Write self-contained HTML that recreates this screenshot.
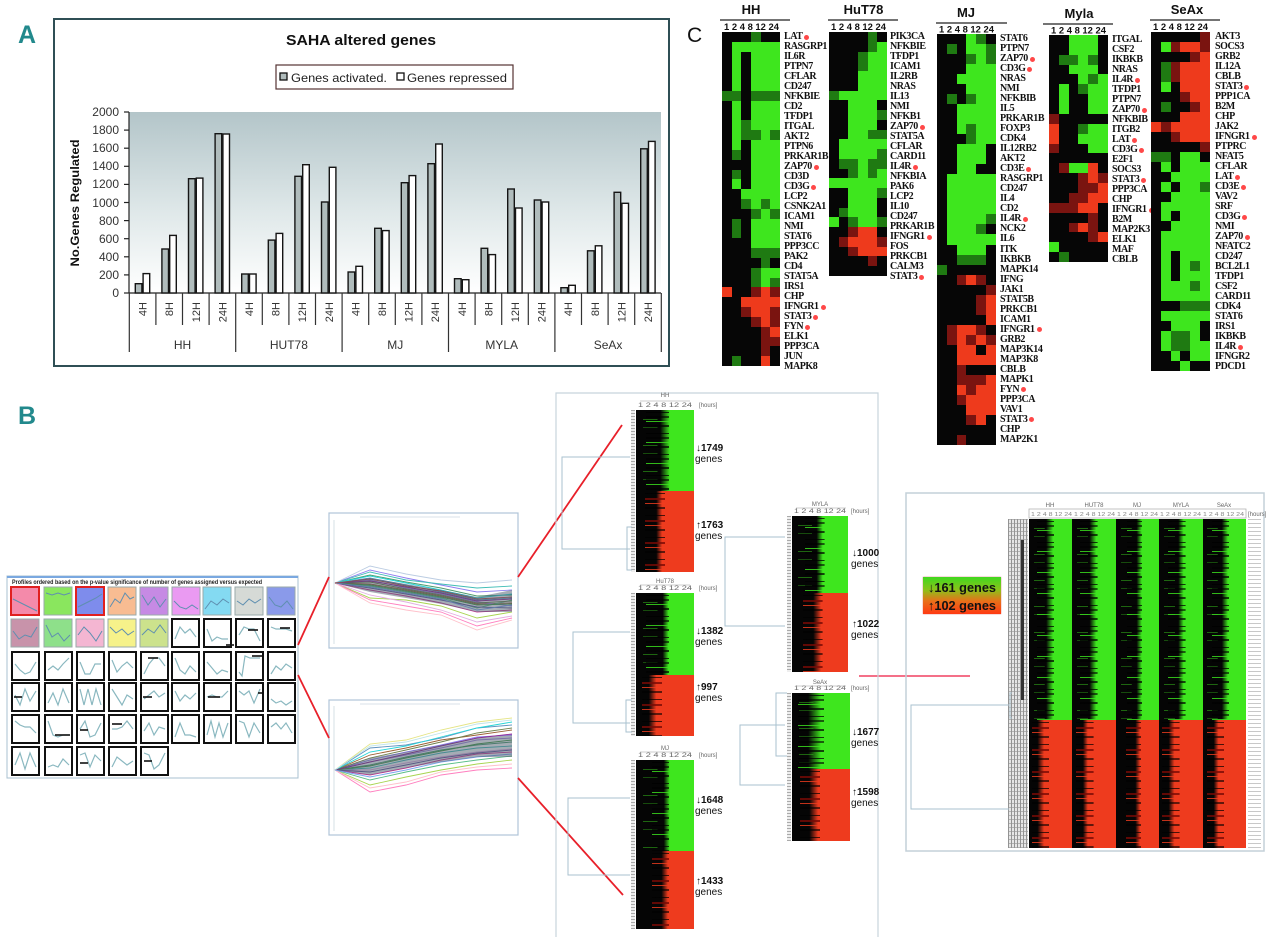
<!DOCTYPE html>
<html><head><meta charset="utf-8">
<style>
body{margin:0;width:1280px;height:950px;background:#fff;position:relative;overflow:hidden;font-family:"Liberation Sans","DejaVu Sans",sans-serif}
.hm{position:absolute;display:grid;grid-template-columns:repeat(6,1fr)}
.hm k,.hm g,.hm d,.hm r,.hm e{display:block}
k{background:#060606} g{background:#3ee61e} d{background:#1f7a12} r{background:#ee3a1c} e{background:#7a1410}
.gl{position:absolute;display:grid;font:bold 10px "Liberation Serif",serif;letter-spacing:-0.45px;color:#111;line-height:1}
.gl div{display:flex;align-items:center;white-space:nowrap}
.gl s{display:inline-block;width:5px;height:5px;border-radius:50%;background:#ff4848;margin-left:2px;text-decoration:none}
.sg,.sr{position:absolute}
.sg{background:repeating-linear-gradient(180deg,transparent 0 2px,rgba(0,0,0,.75) 2px 3px,transparent 3px 6px,rgba(0,0,0,.6) 6px 8px,transparent 8px 11px,rgba(60,230,30,.8) 11px 12px,transparent 12px 15px,rgba(0,0,0,.7) 15px 17px,transparent 17px 21px) no-repeat var(--sp) 0/var(--sw) 100%,repeating-linear-gradient(180deg,transparent 0 9px,rgba(50,180,25,.55) 9px 10px,transparent 10px 17px,rgba(50,180,25,.4) 17px 18px,transparent 18px 26px) no-repeat 15% 0/25% 100%,linear-gradient(90deg,#050505 0 var(--a),#3ee61e var(--b) 100%)}
.sr{background:repeating-linear-gradient(180deg,transparent 0 2px,rgba(0,0,0,.7) 2px 3px,transparent 3px 7px,rgba(120,10,5,.8) 7px 9px,transparent 9px 12px,rgba(240,60,30,.8) 12px 13px,transparent 13px 16px,rgba(0,0,0,.6) 16px 18px,transparent 18px 22px) no-repeat var(--sp) 0/var(--sw) 100%,linear-gradient(90deg,#050505 0 var(--a),#ee3b1e var(--b) 100%)}
.lab{position:absolute;width:4px;background:repeating-linear-gradient(180deg,#aaa 0 1px,#eee 1px 3px)}
svg{position:absolute;left:0;top:0}
</style></head><body>

<!-- ===== C heatmaps ===== -->
<div class="hm" style="left:722px;top:32px;width:58px;height:334px;grid-template-rows:repeat(34,1fr)">
<k></k><k></k><k></k><d></d><k></k><k></k>
<k></k><g></g><g></g><g></g><g></g><g></g>
<k></k><g></g><k></k><g></g><g></g><g></g>
<k></k><g></g><k></k><g></g><g></g><g></g>
<k></k><g></g><k></k><g></g><g></g><g></g>
<k></k><g></g><k></k><g></g><g></g><g></g>
<d></d><d></d><k></k><d></d><d></d><d></d>
<k></k><g></g><k></k><g></g><g></g><g></g>
<k></k><g></g><k></k><g></g><g></g><g></g>
<k></k><g></g><d></d><g></g><g></g><g></g>
<k></k><g></g><d></d><d></d><g></g><d></d>
<k></k><g></g><k></k><g></g><g></g><g></g>
<k></k><d></d><k></k><g></g><g></g><g></g>
<k></k><k></k><k></k><g></g><g></g><g></g>
<k></k><d></d><k></k><g></g><g></g><g></g>
<k></k><g></g><k></k><g></g><g></g><g></g>
<k></k><k></k><g></g><g></g><g></g><g></g>
<k></k><k></k><d></d><g></g><d></d><g></g>
<k></k><k></k><k></k><d></d><g></g><d></d>
<k></k><d></d><k></k><g></g><g></g><g></g>
<k></k><d></d><k></k><g></g><g></g><g></g>
<k></k><k></k><k></k><g></g><g></g><g></g>
<k></k><k></k><k></k><d></d><d></d><d></d>
<k></k><k></k><k></k><k></k><d></d><k></k>
<k></k><k></k><k></k><d></d><g></g><g></g>
<k></k><k></k><k></k><d></d><g></g><d></d>
<r></r><k></k><k></k><e></e><r></r><e></e>
<k></k><k></k><r></r><r></r><r></r><r></r>
<k></k><k></k><e></e><r></r><r></r><e></e>
<k></k><k></k><k></k><e></e><r></r><e></e>
<k></k><k></k><k></k><k></k><e></e><r></r>
<k></k><k></k><k></k><k></k><e></e><e></e>
<k></k><k></k><k></k><k></k><e></e><k></k>
<k></k><d></d><k></k><k></k><r></r><k></k>
</div>
<div class="gl" style="left:784px;top:32px;height:334px;grid-template-rows:repeat(34,1fr)">
<div>LAT<s></s></div><div>RASGRP1</div><div>IL6R</div><div>PTPN7</div><div>CFLAR</div><div>CD247</div><div>NFKBIE</div><div>CD2</div><div>TFDP1</div><div>ITGAL</div><div>AKT2</div><div>PTPN6</div><div>PRKAR1B</div><div>ZAP70<s></s></div><div>CD3D</div><div>CD3G<s></s></div><div>LCP2</div><div>CSNK2A1</div><div>ICAM1</div><div>NMI</div><div>STAT6</div><div>PPP3CC</div><div>PAK2</div><div>CD4</div><div>STAT5A</div><div>IRS1</div><div>CHP</div><div>IFNGR1<s></s></div><div>STAT3<s></s></div><div>FYN<s></s></div><div>ELK1</div><div>PPP3CA</div><div>JUN</div><div>MAPK8</div>
</div>

<div class="hm" style="left:829px;top:32px;width:58px;height:244px;grid-template-rows:repeat(25,1fr)">
<k></k><k></k><k></k><k></k><d></d><k></k>
<k></k><k></k><k></k><k></k><d></d><g></g>
<k></k><k></k><k></k><d></d><g></g><g></g>
<k></k><k></k><k></k><d></d><g></g><g></g>
<k></k><k></k><k></k><g></g><g></g><g></g>
<k></k><k></k><k></k><g></g><g></g><g></g>
<d></d><g></g><g></g><g></g><g></g><g></g>
<k></k><k></k><g></g><g></g><g></g><k></k>
<k></k><k></k><g></g><g></g><g></g><d></d>
<k></k><k></k><g></g><g></g><g></g><k></k>
<k></k><k></k><g></g><g></g><d></d><d></d>
<k></k><g></g><g></g><g></g><g></g><g></g>
<k></k><g></g><g></g><g></g><g></g><d></d>
<k></k><d></d><d></d><g></g><d></d><d></d>
<k></k><k></k><d></d><g></g><d></d><g></g>
<g></g><g></g><g></g><g></g><g></g><g></g>
<k></k><k></k><g></g><g></g><g></g><d></d>
<k></k><k></k><g></g><g></g><g></g><k></k>
<k></k><d></d><g></g><g></g><g></g><k></k>
<g></g><k></k><d></d><g></g><g></g><d></d>
<k></k><k></k><e></e><r></r><r></r><k></k>
<k></k><e></e><r></r><r></r><r></r><e></e>
<k></k><k></k><e></e><r></r><r></r><r></r>
<k></k><k></k><k></k><k></k><e></e><k></k>
<k></k><k></k><k></k><k></k><k></k><k></k>
</div>
<div class="gl" style="left:890px;top:32px;height:244px;grid-template-rows:repeat(25,1fr)">
<div>PIK3CA</div><div>NFKBIE</div><div>TFDP1</div><div>ICAM1</div><div>IL2RB</div><div>NRAS</div><div>IL13</div><div>NMI</div><div>NFKB1</div><div>ZAP70<s></s></div><div>STAT5A</div><div>CFLAR</div><div>CARD11</div><div>IL4R<s></s></div><div>NFKBIA</div><div>PAK6</div><div>LCP2</div><div>IL10</div><div>CD247</div><div>PRKAR1B</div><div>IFNGR1<s></s></div><div>FOS</div><div>PRKCB1</div><div>CALM3</div><div>STAT3<s></s></div>
</div>

<div class="hm" style="left:937px;top:34px;width:59px;height:411px;grid-template-rows:repeat(41,1fr)">
<k></k><k></k><k></k><g></g><d></d><k></k>
<k></k><d></d><k></k><g></g><g></g><d></d>
<k></k><k></k><k></k><d></d><g></g><d></d>
<k></k><k></k><k></k><g></g><g></g><g></g>
<k></k><k></k><g></g><g></g><g></g><g></g>
<k></k><k></k><k></k><g></g><g></g><g></g>
<k></k><d></d><k></k><d></d><g></g><g></g>
<k></k><k></k><g></g><g></g><g></g><g></g>
<k></k><k></k><g></g><g></g><g></g><g></g>
<k></k><k></k><g></g><d></d><g></g><g></g>
<k></k><k></k><k></k><d></d><g></g><g></g>
<k></k><k></k><g></g><g></g><g></g><k></k>
<k></k><k></k><g></g><g></g><g></g><k></k>
<k></k><k></k><g></g><g></g><k></k><k></k>
<k></k><g></g><g></g><g></g><g></g><g></g>
<k></k><g></g><g></g><g></g><g></g><g></g>
<k></k><g></g><g></g><g></g><g></g><g></g>
<k></k><g></g><g></g><g></g><g></g><g></g>
<k></k><g></g><g></g><g></g><g></g><d></d>
<k></k><g></g><g></g><g></g><d></d><k></k>
<k></k><g></g><g></g><g></g><g></g><g></g>
<k></k><k></k><g></g><g></g><g></g><k></k>
<k></k><k></k><d></d><d></d><d></d><k></k>
<d></d><k></k><k></k><k></k><k></k><k></k>
<k></k><k></k><e></e><r></r><e></e><k></k>
<k></k><k></k><k></k><k></k><k></k><e></e>
<k></k><k></k><k></k><k></k><e></e><r></r>
<k></k><k></k><k></k><k></k><e></e><r></r>
<k></k><k></k><k></k><k></k><k></k><r></r>
<k></k><e></e><r></r><r></r><e></e><k></k>
<k></k><e></e><r></r><e></e><r></r><e></e>
<k></k><k></k><r></r><r></r><k></k><r></r>
<k></k><k></k><r></r><r></r><r></r><r></r>
<k></k><k></k><e></e><k></k><k></k><k></k>
<k></k><k></k><e></e><e></e><e></e><r></r>
<k></k><k></k><r></r><e></e><r></r><r></r>
<k></k><k></k><e></e><r></r><r></r><r></r>
<k></k><k></k><k></k><r></r><r></r><r></r>
<k></k><k></k><k></k><e></e><r></r><k></k>
<k></k><k></k><k></k><k></k><k></k><k></k>
<k></k><k></k><e></e><k></k><k></k><k></k>
</div>
<div class="gl" style="left:1000px;top:34px;height:411px;grid-template-rows:repeat(41,1fr)">
<div>STAT6</div><div>PTPN7</div><div>ZAP70<s></s></div><div>CD3G<s></s></div><div>NRAS</div><div>NMI</div><div>NFKBIB</div><div>IL5</div><div>PRKAR1B</div><div>FOXP3</div><div>CDK4</div><div>IL12RB2</div><div>AKT2</div><div>CD3E<s></s></div><div>RASGRP1</div><div>CD247</div><div>IL4</div><div>CD2</div><div>IL4R<s></s></div><div>NCK2</div><div>IL6</div><div>ITK</div><div>IKBKB</div><div>MAPK14</div><div>IFNG</div><div>JAK1</div><div>STAT5B</div><div>PRKCB1</div><div>ICAM1</div><div>IFNGR1<s></s></div><div>GRB2</div><div>MAP3K14</div><div>MAP3K8</div><div>CBLB</div><div>MAPK1</div><div>FYN<s></s></div><div>PPP3CA</div><div>VAV1</div><div>STAT3<s></s></div><div>CHP</div><div>MAP2K1</div>
</div>

<div class="hm" style="left:1049px;top:35px;width:59px;height:227px;grid-template-rows:repeat(23,1fr)">
<k></k><k></k><g></g><g></g><g></g><k></k>
<k></k><k></k><g></g><g></g><g></g><k></k>
<k></k><d></d><d></d><g></g><d></d><k></k>
<k></k><k></k><g></g><g></g><g></g><k></k>
<k></k><k></k><k></k><g></g><d></d><g></g>
<k></k><g></g><k></k><d></d><g></g><g></g>
<k></k><g></g><k></k><k></k><g></g><g></g>
<k></k><g></g><k></k><k></k><g></g><g></g>
<e></e><k></k><k></k><k></k><k></k><k></k>
<r></r><k></k><k></k><d></d><g></g><g></g>
<r></r><k></k><k></k><g></g><g></g><g></g>
<e></e><k></k><k></k><k></k><g></g><g></g>
<k></k><k></k><k></k><k></k><k></k><k></k>
<k></k><e></e><g></g><g></g><r></r><k></k>
<k></k><k></k><k></k><e></e><r></r><e></e>
<k></k><k></k><k></k><e></e><e></e><r></r>
<k></k><k></k><e></e><e></e><r></r><r></r>
<e></e><e></e><e></e><r></r><r></r><k></k>
<k></k><k></k><k></k><k></k><e></e><k></k>
<k></k><k></k><e></e><r></r><e></e><k></k>
<k></k><k></k><k></k><k></k><e></e><r></r>
<g></g><k></k><k></k><k></k><k></k><k></k>
<k></k><d></d><k></k><k></k><k></k><k></k>
</div>
<div class="gl" style="left:1112px;top:35px;height:227px;grid-template-rows:repeat(23,1fr)">
<div>ITGAL</div><div>CSF2</div><div>IKBKB</div><div>NRAS</div><div>IL4R<s></s></div><div>TFDP1</div><div>PTPN7</div><div>ZAP70<s></s></div><div>NFKBIB</div><div>ITGB2</div><div>LAT<s></s></div><div>CD3G<s></s></div><div>E2F1</div><div>SOCS3</div><div>STAT3<s></s></div><div>PPP3CA</div><div>CHP</div><div>IFNGR1<s></s></div><div>B2M</div><div>MAP2K3</div><div>ELK1</div><div>MAF</div><div>CBLB</div>
</div>

<div class="hm" style="left:1151px;top:32px;width:59px;height:339px;grid-template-rows:repeat(34,1fr)">
<k></k><k></k><k></k><k></k><k></k><e></e>
<k></k><g></g><e></e><r></r><r></r><e></e>
<k></k><k></k><k></k><k></k><e></e><r></r>
<k></k><d></d><e></e><r></r><r></r><r></r>
<k></k><d></d><e></e><r></r><r></r><r></r>
<k></k><g></g><k></k><r></r><r></r><r></r>
<k></k><k></k><k></k><e></e><r></r><r></r>
<k></k><d></d><k></k><k></k><e></e><r></r>
<k></k><k></k><k></k><r></r><r></r><r></r>
<r></r><e></e><r></r><r></r><r></r><r></r>
<k></k><k></k><e></e><r></r><r></r><r></r>
<k></k><k></k><k></k><k></k><k></k><e></e>
<d></d><d></d><k></k><g></g><g></g><k></k>
<k></k><g></g><k></k><g></g><g></g><g></g>
<k></k><k></k><g></g><g></g><g></g><g></g>
<k></k><g></g><k></k><g></g><g></g><d></d>
<k></k><k></k><g></g><g></g><g></g><g></g>
<k></k><g></g><g></g><g></g><g></g><g></g>
<k></k><g></g><k></k><g></g><g></g><g></g>
<k></k><k></k><g></g><g></g><g></g><g></g>
<k></k><g></g><g></g><g></g><g></g><g></g>
<k></k><g></g><g></g><g></g><g></g><g></g>
<k></k><g></g><k></k><g></g><g></g><g></g>
<k></k><g></g><k></k><g></g><d></d><g></g>
<k></k><g></g><k></k><g></g><g></g><g></g>
<k></k><g></g><g></g><g></g><d></d><g></g>
<k></k><g></g><g></g><g></g><g></g><g></g>
<k></k><k></k><k></k><d></d><d></d><d></d>
<k></k><g></g><g></g><g></g><g></g><g></g>
<k></k><k></k><g></g><g></g><g></g><k></k>
<k></k><g></g><d></d><d></d><g></g><k></k>
<k></k><g></g><d></d><d></d><g></g><g></g>
<k></k><k></k><g></g><k></k><g></g><g></g>
<k></k><k></k><k></k><g></g><k></k><k></k>
</div>
<div class="gl" style="left:1215px;top:32px;height:339px;grid-template-rows:repeat(34,1fr)">
<div>AKT3</div><div>SOCS3</div><div>GRB2</div><div>IL12A</div><div>CBLB</div><div>STAT3<s></s></div><div>PPP1CA</div><div>B2M</div><div>CHP</div><div>JAK2</div><div>IFNGR1<s></s></div><div>PTPRC</div><div>NFAT5</div><div>CFLAR</div><div>LAT<s></s></div><div>CD3E<s></s></div><div>VAV2</div><div>SRF</div><div>CD3G<s></s></div><div>NMI</div><div>ZAP70<s></s></div><div>NFATC2</div><div>CD247</div><div>BCL2L1</div><div>TFDP1</div><div>CSF2</div><div>CARD11</div><div>CDK4</div><div>STAT6</div><div>IRS1</div><div>IKBKB</div><div>IL4R<s></s></div><div>IFNGR2</div><div>PDCD1</div>
</div>

<!-- ===== B small heatmaps ===== -->
<div class="lab" style="left:631px;top:410px;height:162px"></div>
<div class="sg" style="left:636px;top:410px;width:58px;height:81px;--a:42%;--b:58%;--sp:30%;--sw:40%"></div>
<div class="sr" style="left:636px;top:491px;width:58px;height:81px;--a:35%;--b:45%;--sp:25%;--sw:35%"></div>

<div class="lab" style="left:631px;top:593px;height:143px"></div>
<div class="sg" style="left:636px;top:593px;width:58px;height:82px;--a:46%;--b:56%;--sp:30%;--sw:40%"></div>
<div class="sr" style="left:636px;top:675px;width:58px;height:61px;--a:22%;--b:35%;--sp:15%;--sw:35%"></div>

<div class="lab" style="left:631px;top:760px;height:169px"></div>
<div class="sg" style="left:636px;top:760px;width:58px;height:91px;--a:48%;--b:58%;--sp:40%;--sw:30%"></div>
<div class="sr" style="left:636px;top:851px;width:58px;height:78px;--a:44%;--b:55%;--sp:40%;--sw:30%"></div>

<div class="lab" style="left:787px;top:516px;height:156px"></div>
<div class="sg" style="left:792px;top:516px;width:56px;height:77px;--a:44%;--b:55%;--sp:35%;--sw:35%"></div>
<div class="sr" style="left:792px;top:593px;width:56px;height:79px;--a:38%;--b:52%;--sp:30%;--sw:35%"></div>

<div class="lab" style="left:787px;top:693px;height:148px"></div>
<div class="sg" style="left:792px;top:693px;width:58px;height:76px;--a:28%;--b:50%;--sp:20%;--sw:45%"></div>
<div class="sr" style="left:792px;top:769px;width:58px;height:72px;--a:30%;--b:45%;--sp:22%;--sw:35%"></div>

<!-- ===== B big heatmap ===== -->
<div style="position:absolute;left:1008px;top:519px;width:20px;height:329px;background:repeating-linear-gradient(90deg,#888 0 1px,transparent 1px 3px),repeating-linear-gradient(180deg,#aaa 0 1px,#e4e4e4 1px 4px);opacity:.9"></div>
<div style="position:absolute;left:1021px;top:540px;width:3px;height:160px;background:#333"></div>
<div class="sg" style="left:1029px;top:519px;width:43.4px;height:201px;--a:40%;--b:56%;--sp:30%;--sw:40%"></div>
<div class="sg" style="left:1072.4px;top:519px;width:43.4px;height:201px;--a:40%;--b:55%;--sp:30%;--sw:40%"></div>
<div class="sg" style="left:1115.8px;top:519px;width:43.4px;height:201px;--a:48%;--b:60%;--sp:40%;--sw:35%"></div>
<div class="sg" style="left:1159.2px;top:519px;width:43.4px;height:201px;--a:44%;--b:56%;--sp:35%;--sw:40%"></div>
<div class="sg" style="left:1202.6px;top:519px;width:43.4px;height:201px;--a:44%;--b:58%;--sp:35%;--sw:40%"></div>
<div class="sr" style="left:1029px;top:720px;width:43.4px;height:128px;--a:20%;--b:35%;--sp:10%;--sw:40%"></div>
<div class="sr" style="left:1072.4px;top:720px;width:43.4px;height:128px;--a:25%;--b:36%;--sp:15%;--sw:40%"></div>
<div class="sr" style="left:1115.8px;top:720px;width:43.4px;height:128px;--a:45%;--b:56%;--sp:35%;--sw:35%"></div>
<div class="sr" style="left:1159.2px;top:720px;width:43.4px;height:128px;--a:22%;--b:35%;--sp:12%;--sw:40%"></div>
<div class="sr" style="left:1202.6px;top:720px;width:43.4px;height:128px;--a:25%;--b:36%;--sp:15%;--sw:40%"></div>
<div style="position:absolute;left:1248px;top:519px;width:13px;height:329px;background:repeating-linear-gradient(180deg,#c8c8c8 0 1px,transparent 1px 4px)"></div>
<div style="position:absolute;left:923px;top:577px;width:78px;height:37px;background:linear-gradient(180deg,#3fd81f 0%,#8cc21a 35%,#e8701a 65%,#ff3a12 100%);box-shadow:0 0 1px #c44"></div>

<svg width="1280" height="950" viewBox="0 0 1280 950" xmlns="http://www.w3.org/2000/svg" font-family="Liberation Sans, DejaVu Sans, sans-serif">
<defs>
<linearGradient id="pa" x1="0" y1="0" x2="0" y2="1">
<stop offset="0" stop-color="#b3c5c9"/><stop offset="0.55" stop-color="#dfe8e9"/><stop offset="1" stop-color="#ffffff"/>
</linearGradient>
</defs>

<!-- ===== Panel A ===== -->
<text x="18" y="43" font-family="Liberation Sans Narrow, Liberation Sans, sans-serif" font-weight="bold" font-size="25" fill="#22898c">A</text>
<rect x="54" y="19" width="615" height="347" fill="#fff" stroke="#2f4f55" stroke-width="2"/>
<text x="361" y="45" text-anchor="middle" font-weight="bold" font-size="15" textLength="150" lengthAdjust="spacingAndGlyphs" fill="#111">SAHA altered genes</text>
<rect x="276" y="65" width="237" height="24" fill="#fff" stroke="#553333" stroke-width="1.2"/>
<rect x="280" y="73" width="7" height="7" fill="#b0bcbc" stroke="#111" stroke-width="1.3"/>
<text x="291" y="82" font-size="12" fill="#222" textLength="96" lengthAdjust="spacingAndGlyphs">Genes activated.</text>
<rect x="397" y="73" width="7" height="7" fill="#fff" stroke="#111" stroke-width="1.3"/>
<text x="407" y="82" font-size="12" fill="#222" textLength="100" lengthAdjust="spacingAndGlyphs">Genes repressed</text>

<rect x="129" y="112" width="532" height="181" fill="url(#pa)"/>
<g stroke="#222" stroke-width="1.2">
<line x1="129" y1="112" x2="129" y2="293"/>
<line x1="129" y1="293" x2="661" y2="293"/>
<line x1="124" y1="293" x2="129" y2="293"/><line x1="124" y1="274.9" x2="129" y2="274.9"/><line x1="124" y1="256.8" x2="129" y2="256.8"/><line x1="124" y1="238.7" x2="129" y2="238.7"/><line x1="124" y1="220.6" x2="129" y2="220.6"/><line x1="124" y1="202.5" x2="129" y2="202.5"/><line x1="124" y1="184.4" x2="129" y2="184.4"/><line x1="124" y1="166.3" x2="129" y2="166.3"/><line x1="124" y1="148.2" x2="129" y2="148.2"/><line x1="124" y1="130.1" x2="129" y2="130.1"/><line x1="124" y1="112" x2="129" y2="112"/>
</g>
<g font-size="12" fill="#333" text-anchor="end">
<text x="119" y="297">0</text><text x="119" y="279">200</text><text x="119" y="261">400</text><text x="119" y="243">600</text><text x="119" y="225">800</text><text x="119" y="207">1000</text><text x="119" y="188">1200</text><text x="119" y="170">1400</text><text x="119" y="152">1600</text><text x="119" y="134">1800</text><text x="119" y="116">2000</text>
</g>
<text transform="translate(79,203) rotate(-90)" text-anchor="middle" font-weight="bold" font-size="12" fill="#111" textLength="127" lengthAdjust="spacingAndGlyphs">No.Genes Regulated</text>

<g stroke="#151515" stroke-width="1.4">
<rect x="135.3" y="283.7" width="6.6" height="9.3" fill="#b0bcbc"/><rect x="143.1" y="273.6" width="6.6" height="19.4" fill="#fff"/>
<rect x="161.9" y="249" width="6.6" height="44" fill="#b0bcbc"/><rect x="169.7" y="235.4" width="6.6" height="57.6" fill="#fff"/>
<rect x="188.5" y="178.7" width="6.6" height="114.3" fill="#b0bcbc"/><rect x="196.3" y="178.1" width="6.6" height="114.9" fill="#fff"/>
<rect x="215.1" y="133.7" width="6.6" height="159.3" fill="#b0bcbc"/><rect x="222.9" y="134" width="6.6" height="159" fill="#fff"/>
<rect x="241.7" y="274" width="6.6" height="19" fill="#b0bcbc"/><rect x="249.5" y="274" width="6.6" height="19" fill="#fff"/>
<rect x="268.3" y="240.1" width="6.6" height="52.9" fill="#b0bcbc"/><rect x="276.1" y="233.4" width="6.6" height="59.6" fill="#fff"/>
<rect x="294.9" y="176.3" width="6.6" height="116.7" fill="#b0bcbc"/><rect x="302.7" y="164.7" width="6.6" height="128.3" fill="#fff"/>
<rect x="321.5" y="202" width="6.6" height="91" fill="#b0bcbc"/><rect x="329.3" y="167.3" width="6.6" height="125.7" fill="#fff"/>
<rect x="348.1" y="272" width="6.6" height="21" fill="#b0bcbc"/><rect x="355.9" y="266.3" width="6.6" height="26.7" fill="#fff"/>
<rect x="374.7" y="228.3" width="6.6" height="64.7" fill="#b0bcbc"/><rect x="382.5" y="230.6" width="6.6" height="62.4" fill="#fff"/>
<rect x="401.3" y="182.7" width="6.6" height="110.3" fill="#b0bcbc"/><rect x="409.1" y="175.6" width="6.6" height="117.4" fill="#fff"/>
<rect x="427.9" y="163.7" width="6.6" height="129.3" fill="#b0bcbc"/><rect x="435.7" y="144" width="6.6" height="149" fill="#fff"/>
<rect x="454.5" y="278.7" width="6.6" height="14.3" fill="#b0bcbc"/><rect x="462.3" y="279.7" width="6.6" height="13.3" fill="#fff"/>
<rect x="481.1" y="248.3" width="6.6" height="44.7" fill="#b0bcbc"/><rect x="488.9" y="254.6" width="6.6" height="38.4" fill="#fff"/>
<rect x="507.7" y="189" width="6.6" height="104" fill="#b0bcbc"/><rect x="515.5" y="208" width="6.6" height="85" fill="#fff"/>
<rect x="534.3" y="200" width="6.6" height="93" fill="#b0bcbc"/><rect x="542.1" y="202" width="6.6" height="91" fill="#fff"/>
<rect x="560.9" y="287.7" width="6.6" height="5.3" fill="#b0bcbc"/><rect x="568.7" y="285.3" width="6.6" height="7.7" fill="#fff"/>
<rect x="587.5" y="250.8" width="6.6" height="42.2" fill="#b0bcbc"/><rect x="595.3" y="245.8" width="6.6" height="47.2" fill="#fff"/>
<rect x="614.1" y="192.3" width="6.6" height="100.7" fill="#b0bcbc"/><rect x="621.9" y="203.3" width="6.6" height="89.7" fill="#fff"/>
<rect x="640.7" y="148.8" width="6.6" height="144.2" fill="#b0bcbc"/><rect x="648.5" y="141.4" width="6.6" height="151.6" fill="#fff"/>
</g>

<g stroke="#333" stroke-width="1.2">
<line x1="129.3" y1="293" x2="129.3" y2="352"/><line x1="155.9" y1="293" x2="155.9" y2="325"/><line x1="182.5" y1="293" x2="182.5" y2="325"/><line x1="209.1" y1="293" x2="209.1" y2="325"/>
<line x1="235.7" y1="293" x2="235.7" y2="352"/><line x1="262.3" y1="293" x2="262.3" y2="325"/><line x1="288.9" y1="293" x2="288.9" y2="325"/><line x1="315.5" y1="293" x2="315.5" y2="325"/>
<line x1="342.1" y1="293" x2="342.1" y2="352"/><line x1="368.7" y1="293" x2="368.7" y2="325"/><line x1="395.3" y1="293" x2="395.3" y2="325"/><line x1="421.9" y1="293" x2="421.9" y2="325"/>
<line x1="448.5" y1="293" x2="448.5" y2="352"/><line x1="475.1" y1="293" x2="475.1" y2="325"/><line x1="501.7" y1="293" x2="501.7" y2="325"/><line x1="528.3" y1="293" x2="528.3" y2="325"/>
<line x1="554.9" y1="293" x2="554.9" y2="352"/><line x1="581.5" y1="293" x2="581.5" y2="325"/><line x1="608.1" y1="293" x2="608.1" y2="325"/><line x1="634.7" y1="293" x2="634.7" y2="325"/>
<line x1="661.3" y1="293" x2="661.3" y2="352"/>
</g>
<g font-size="11" fill="#333" text-anchor="end">
<text transform="translate(146.6,302) rotate(-90)">4H</text><text transform="translate(173.2,302) rotate(-90)">8H</text><text transform="translate(199.8,302) rotate(-90)">12H</text><text transform="translate(226.4,302) rotate(-90)">24H</text>
<text transform="translate(253,302) rotate(-90)">4H</text><text transform="translate(279.6,302) rotate(-90)">8H</text><text transform="translate(306.2,302) rotate(-90)">12H</text><text transform="translate(332.8,302) rotate(-90)">24H</text>
<text transform="translate(359.4,302) rotate(-90)">4H</text><text transform="translate(386,302) rotate(-90)">8H</text><text transform="translate(412.6,302) rotate(-90)">12H</text><text transform="translate(439.2,302) rotate(-90)">24H</text>
<text transform="translate(465.8,302) rotate(-90)">4H</text><text transform="translate(492.4,302) rotate(-90)">8H</text><text transform="translate(519,302) rotate(-90)">12H</text><text transform="translate(545.6,302) rotate(-90)">24H</text>
<text transform="translate(572.2,302) rotate(-90)">4H</text><text transform="translate(598.8,302) rotate(-90)">8H</text><text transform="translate(625.4,302) rotate(-90)">12H</text><text transform="translate(652,302) rotate(-90)">24H</text>
</g>
<g font-size="12" fill="#333" text-anchor="middle">
<text x="182.5" y="349">HH</text><text x="288.9" y="349">HUT78</text><text x="395.3" y="349">MJ</text><text x="501.7" y="349">MYLA</text><text x="608.1" y="349">SeAx</text>
</g>

<!-- ===== Panel C headers ===== -->
<text x="687" y="42" font-size="21" fill="#111">C</text>
<g font-weight="bold" font-size="13" fill="#111" text-anchor="middle">
<text x="751" y="14">HH</text><text x="863.5" y="14">HuT78</text><text x="966" y="17">MJ</text><text x="1079" y="18">Myla</text><text x="1187" y="14">SeAx</text>
</g>
<g stroke="#222" stroke-width="1.3">
<line x1="720" y1="20" x2="790" y2="20"/><line x1="828" y1="20" x2="898" y2="20"/><line x1="936" y1="23" x2="1007" y2="23"/><line x1="1043" y1="24" x2="1113" y2="24"/><line x1="1150" y1="20" x2="1220" y2="20"/>
</g>
<g font-weight="bold" font-size="9" fill="#111">
<text x="724" y="30" textLength="55" lengthAdjust="spacingAndGlyphs">1 2 4 8 12 24</text>
<text x="831" y="30" textLength="55" lengthAdjust="spacingAndGlyphs">1 2 4 8 12 24</text>
<text x="939" y="32.5" textLength="55" lengthAdjust="spacingAndGlyphs">1 2 4 8 12 24</text>
<text x="1051" y="33.5" textLength="55" lengthAdjust="spacingAndGlyphs">1 2 4 8 12 24</text>
<text x="1153" y="30" textLength="55" lengthAdjust="spacingAndGlyphs">1 2 4 8 12 24</text>
</g>

<!-- ===== Panel B ===== -->
<text x="18" y="424" font-family="Liberation Sans Narrow, Liberation Sans, sans-serif" font-weight="bold" font-size="25" fill="#22898c">B</text>

<!-- profile panel -->
<rect x="7" y="576" width="291" height="202" fill="#fff" stroke="#a8c0d0" stroke-width="1"/>
<line x1="7" y1="577" x2="298" y2="577" stroke="#7aa8e0" stroke-width="2"/>
<text x="12" y="584" font-weight="bold" font-size="6.5" fill="#222" textLength="250" lengthAdjust="spacingAndGlyphs">Profiles ordered based on the p-value significance of number of genes assigned versus expected</text>
<g stroke="#9aa" stroke-width="1">
<rect x="11" y="587" width="28" height="28" fill="#f48aaa" stroke="#e02020" stroke-width="2"/>
<rect x="44" y="587" width="28" height="28" fill="#8ae65e"/>
<rect x="76" y="587" width="28" height="28" fill="#7e8cec" stroke="#e02020" stroke-width="2"/>
<rect x="108" y="587" width="28" height="28" fill="#f8bc92"/>
<rect x="140" y="587" width="28" height="28" fill="#c68ae4"/>
<rect x="172" y="587" width="28" height="28" fill="#ea9af2"/>
<rect x="203" y="587" width="28" height="28" fill="#84daf2"/>
<rect x="235" y="587" width="28" height="28" fill="#d6dad6"/>
<rect x="267" y="587" width="28" height="28" fill="#8a9aea"/>
<rect x="11" y="619" width="28" height="28" fill="#c893aa"/>
<rect x="44" y="619" width="28" height="28" fill="#8ee08a"/>
<rect x="76" y="619" width="28" height="28" fill="#f4b6d2"/>
<rect x="108" y="619" width="28" height="28" fill="#f6f28a"/>
<rect x="140" y="619" width="28" height="28" fill="#cce28c"/>
</g>
<g fill="none" stroke="#5f8fb0" stroke-width="1">
<polyline transform="translate(11,587)" points="2,12 8,15 14,18 20,21 26,24"/>
<polyline transform="translate(44,587)" points="2,6 8,8 14,6 20,8 26,6"/>
<polyline transform="translate(76,587)" points="2,20 8,17 14,14 20,11 26,7"/>
<polyline transform="translate(108,587)" points="2,20 7,12 12,16 17,6 22,12 26,10"/>
<polyline transform="translate(140,587)" points="2,8 8,18 14,10 20,20 26,12"/>
<polyline transform="translate(172,587)" points="2,14 8,20 14,22 20,18 26,22"/>
<polyline transform="translate(203,587)" points="2,22 8,14 14,18 20,12 26,16"/>
<polyline transform="translate(235,587)" points="2,14 8,18 14,12 20,16 26,12"/>
<polyline transform="translate(267,587)" points="2,10 8,18 14,20 20,14 26,22"/>
<polyline transform="translate(11,619)" points="2,12 8,20 14,16 20,18 26,8"/>
<polyline transform="translate(44,619)" points="2,6 8,18 14,14 20,22 26,16"/>
<polyline transform="translate(76,619)" points="2,16 8,8 14,14 20,22 26,12"/>
<polyline transform="translate(108,619)" points="2,8 8,14 14,10 20,16 26,12"/>
<polyline transform="translate(140,619)" points="2,16 8,10 14,14 20,6 26,14"/>
</g>
<g fill="#fff" stroke="#111" stroke-width="2">
<rect x="172" y="619" width="27" height="28"/><rect x="204" y="619" width="27" height="28"/><rect x="236" y="619" width="27" height="28"/><rect x="268" y="619" width="27" height="28"/>
<rect x="12" y="652" width="27" height="28"/><rect x="45" y="652" width="27" height="28"/><rect x="77" y="652" width="27" height="28"/><rect x="109" y="652" width="27" height="28"/><rect x="141" y="652" width="27" height="28"/><rect x="172" y="652" width="27" height="28"/><rect x="204" y="652" width="27" height="28"/><rect x="236" y="652" width="27" height="28"/><rect x="268" y="652" width="27" height="28"/>
<rect x="12" y="683" width="27" height="28"/><rect x="45" y="683" width="27" height="28"/><rect x="77" y="683" width="27" height="28"/><rect x="109" y="683" width="27" height="28"/><rect x="141" y="683" width="27" height="28"/><rect x="172" y="683" width="27" height="28"/><rect x="204" y="683" width="27" height="28"/><rect x="236" y="683" width="27" height="28"/><rect x="268" y="683" width="27" height="28"/>
<rect x="12" y="715" width="27" height="28"/><rect x="45" y="715" width="27" height="28"/><rect x="77" y="715" width="27" height="28"/><rect x="109" y="715" width="27" height="28"/><rect x="141" y="715" width="27" height="28"/><rect x="172" y="715" width="27" height="28"/><rect x="204" y="715" width="27" height="28"/><rect x="236" y="715" width="27" height="28"/><rect x="268" y="715" width="27" height="28"/>
<rect x="12" y="747" width="27" height="28"/><rect x="45" y="747" width="27" height="28"/><rect x="77" y="747" width="27" height="28"/><rect x="109" y="747" width="27" height="28"/><rect x="141" y="747" width="27" height="28"/>
</g>
<g fill="none" stroke="#8ab8c0" stroke-width="1.2">
<polyline transform="translate(172,619)" points="3,20 8,8 13,14 18,10 24,18"/>
<polyline transform="translate(204,619)" points="3,10 8,22 13,18 18,20 24,20"/>
<polyline transform="translate(236,619)" points="3,16 8,8 13,10 18,10 24,22"/>
<polyline transform="translate(268,619)" points="3,8 8,10 13,10 18,10 24,12"/>
<polyline transform="translate(12,652)" points="3,12 8,18 13,22 18,20 24,10"/>
<polyline transform="translate(45,652)" points="3,18 8,14 13,18 18,12 24,6"/>
<polyline transform="translate(77,652)" points="3,10 8,22 13,22 18,12 24,12"/>
<polyline transform="translate(109,652)" points="3,8 8,20 13,14 18,10 24,16"/>
<polyline transform="translate(141,652)" points="3,22 8,12 13,6 18,6 24,14"/>
<polyline transform="translate(172,652)" points="3,6 8,18 13,22 18,14 24,20"/>
<polyline transform="translate(204,652)" points="3,10 8,16 13,22 18,18 24,20"/>
<polyline transform="translate(236,652)" points="3,20 6,24 9,4 14,6 24,6"/>
<polyline transform="translate(268,652)" points="3,22 8,14 13,18 18,12 24,16"/>
<polyline transform="translate(12,683)" points="3,12 8,22 13,6 18,18 24,8"/>
<polyline transform="translate(45,683)" points="3,20 8,10 13,22 18,6 24,20"/>
<polyline transform="translate(77,683)" points="3,6 7,22 11,6 15,22 19,6 24,22"/>
<polyline transform="translate(109,683)" points="3,6 8,14 13,22 18,12 24,16"/>
<polyline transform="translate(141,683)" points="3,16 8,12 13,8 18,14 24,10"/>
<polyline transform="translate(172,683)" points="3,8 8,18 13,12 18,16 24,10"/>
<polyline transform="translate(204,683)" points="3,14 8,12 13,14 18,14 24,8"/>
<polyline transform="translate(236,683)" points="3,8 8,12 13,8 18,20 24,6"/>
<polyline transform="translate(268,683)" points="3,16 8,20 13,18 18,22 24,18"/>
<polyline transform="translate(12,715)" points="3,6 8,10 13,12 18,12 24,18"/>
<polyline transform="translate(45,715)" points="3,6 8,20 13,22 18,20 24,20"/>
<polyline transform="translate(77,715)" points="3,14 8,6 13,22 18,20 24,8"/>
<polyline transform="translate(109,715)" points="3,14 8,14 13,12 18,6 24,14"/>
<polyline transform="translate(141,715)" points="3,16 8,8 13,20 18,12 24,14"/>
<polyline transform="translate(172,715)" points="3,22 8,8 13,20 18,20 24,22"/>
<polyline transform="translate(204,715)" points="3,20 7,6 11,22 15,8 19,22 24,8"/>
<polyline transform="translate(236,715)" points="3,6 8,8 13,22 18,8 24,18"/>
<polyline transform="translate(268,715)" points="3,12 8,8 13,14 18,8 24,18"/>
<polyline transform="translate(12,747)" points="3,18 8,6 13,22 18,6 24,20"/>
<polyline transform="translate(45,747)" points="3,20 8,18 13,20 18,12 24,18"/>
<polyline transform="translate(77,747)" points="3,8 8,6 13,20 18,8 24,14"/>
<polyline transform="translate(109,747)" points="3,20 8,10 13,14 18,18 24,14"/>
<polyline transform="translate(141,747)" points="3,6 8,8 13,22 18,18 24,6"/>
</g>
<g stroke="#111" stroke-width="1.6">
<line x1="226" y1="645" x2="234" y2="645"/><line x1="248" y1="630" x2="258" y2="630"/><line x1="280" y1="628" x2="290" y2="628"/>
<line x1="148" y1="658" x2="158" y2="658"/><line x1="252" y1="656" x2="262" y2="656"/><line x1="14" y1="697" x2="22" y2="697"/>
<line x1="143" y1="697" x2="152" y2="697"/><line x1="208" y1="697" x2="220" y2="697"/><line x1="258" y1="693" x2="264" y2="693"/>
<line x1="55" y1="735" x2="70" y2="735"/><line x1="80" y1="730" x2="88" y2="730"/><line x1="112" y1="724" x2="122" y2="724"/>
<line x1="80" y1="763" x2="88" y2="763"/><line x1="144" y1="761" x2="152" y2="761"/>
</g>

<!-- line charts -->
<rect x="329" y="513" width="189" height="135" fill="#fff" stroke="#b0c4d8" stroke-width="1.2"/>
<rect x="329" y="700" width="189" height="135" fill="#fff" stroke="#b0c4d8" stroke-width="1.2"/>
<g stroke="#ccd8e0" stroke-width="0.8"><line x1="334" y1="520" x2="334" y2="644"/><line x1="334" y1="706" x2="334" y2="831"/>
<line x1="360" y1="517" x2="460" y2="517"/><line x1="360" y1="704" x2="460" y2="704"/></g>
<g fill="none" stroke-width="0.9" opacity="0.85">
<polyline stroke="#7b68ee" points="335,583 370,570 406,578 441,585 477,592 512,590"/>
<polyline stroke="#2e8b57" points="335,583 370,575 406,582 441,588 477,596 512,595"/>
<polyline stroke="#c71585" points="335,583 370,590 406,596 441,603 477,612 512,610"/>
<polyline stroke="#4682b4" points="335,583 370,578 406,585 441,592 477,600 512,598"/>
<polyline stroke="#9acd32" points="335,583 370,598 406,600 441,606 477,618 512,612"/>
<polyline stroke="#ff69b4" points="335,583 370,600 406,606 441,612 477,626 512,618"/>
<polyline stroke="#8b4513" points="335,583 370,584 406,590 441,596 477,604 512,603"/>
<polyline stroke="#20b2aa" points="335,583 370,572 406,580 441,584 477,588 512,586"/>
<polyline stroke="#9370db" points="335,583 370,580 406,588 441,594 477,602 512,606"/>
<polyline stroke="#3cb371" points="335,583 370,586 406,592 441,598 477,608 512,600"/>
<polyline stroke="#b0c4de" points="335,583 370,566 406,574 441,580 477,583 512,580"/>
<polyline stroke="#dda0dd" points="335,583 370,595 406,602 441,610 477,622 512,616"/>
<polyline stroke="#556b2f" points="335,583 370,582 406,589 441,595 477,603 512,601"/>
<polyline stroke="#483d8b" points="335,583 370,588 406,594 441,600 477,607 512,608"/>
<polyline stroke="#00ced1" points="335,583 370,576 406,583 441,590 477,598 512,594"/>
<polyline stroke="#ffb6c1" points="335,583 370,603 406,610 441,615 477,630 512,620"/>
<polyline stroke="#228b22" points="335,583 370,585 406,591 441,597 477,605 512,604"/>
<polyline stroke="#800080" points="335,583 370,581 406,587 441,593 477,601 512,599"/>
<polyline stroke="#6495ed" points="335,583 370,587 406,593 441,599 477,610 512,605"/>
<polyline stroke="#a52a2a" points="335,583 370,579 406,586 441,591 477,599 512,597"/>
</g>
<polygon points="335,583 370,578 406,584 441,590 477,597 512,590 512,612 477,612 441,604 406,598 370,592" fill="#4c5a6c" opacity="0.5"/>
<g fill="none" stroke-width="0.9" opacity="0.85">
<polyline stroke="#7b68ee" points="335,770 370,760 406,752 441,745 477,737 512,735"/>
<polyline stroke="#2e8b57" points="335,770 370,765 406,757 441,750 477,745 512,742"/>
<polyline stroke="#c71585" points="335,770 370,775 406,768 441,760 477,754 512,752"/>
<polyline stroke="#4682b4" points="335,770 370,748 406,745 441,738 477,728 512,725"/>
<polyline stroke="#9acd32" points="335,770 370,785 406,777 441,770 477,764 512,760"/>
<polyline stroke="#ff69b4" points="335,770 370,792 406,785 441,775 477,770 512,768"/>
<polyline stroke="#8b4513" points="335,770 370,755 406,748 441,740 477,735 512,730"/>
<polyline stroke="#20b2aa" points="335,770 370,768 406,760 441,753 477,748 512,746"/>
<polyline stroke="#e0e070" points="335,770 370,744 406,740 441,730 477,722 512,718"/>
<polyline stroke="#3cb371" points="335,770 370,780 406,772 441,765 477,760 512,756"/>
<polyline stroke="#9370db" points="335,770 370,762 406,755 441,748 477,740 512,738"/>
<polyline stroke="#dda0dd" points="335,770 370,770 406,763 441,757 477,752 512,749"/>
<polyline stroke="#556b2f" points="335,770 370,758 406,750 441,742 477,733 512,728"/>
<polyline stroke="#483d8b" points="335,770 370,772 406,765 441,758 477,753 512,750"/>
<polyline stroke="#00ced1" points="335,770 370,752 406,746 441,737 477,728 512,722"/>
<polyline stroke="#ffb6c1" points="335,770 370,788 406,782 441,772 477,767 512,764"/>
<polyline stroke="#228b22" points="335,770 370,766 406,758 441,751 477,744 512,740"/>
<polyline stroke="#800080" points="335,770 370,762 406,754 441,746 477,738 512,734"/>
<polyline stroke="#6495ed" points="335,770 370,777 406,770 441,762 477,757 512,754"/>
<polyline stroke="#b0e0e6" points="335,770 370,746 406,742 441,733 477,724 512,720"/>
</g>
<polygon points="335,770 370,758 406,752 441,745 477,738 512,735 512,757 477,757 441,762 406,768 370,775" fill="#4c5a6c" opacity="0.5"/>

<!-- red connectors -->
<g stroke="#e8202a" stroke-width="1.8">
<line x1="298" y1="645" x2="329" y2="577"/>
<line x1="298" y1="675" x2="329" y2="738"/>
<line x1="518" y1="577" x2="622" y2="425"/>
<line x1="518" y1="778" x2="623" y2="895"/>
</g>
<line x1="859" y1="676" x2="970" y2="676" stroke="#f04060" stroke-width="1.5"/>

<!-- middle panel frame -->
<g stroke="#c8d4dc" stroke-width="1.2" fill="none">
<polyline points="556,937 556,393 878,393 878,937"/>
</g>
<!-- big panel frame -->
<rect x="906" y="493" width="358" height="358" fill="none" stroke="#c4d0d8" stroke-width="1.5"/>

<!-- dendrograms -->
<g stroke="#a9c2cf" stroke-width="1" fill="none">
<polyline points="630,457 562,457 562,549 630,549"/>
<polyline points="632,527 627,527 627,570 632,570"/>
<polyline points="630,632 573,632 573,723 630,723"/>
<polyline points="632,700 626,700 626,732 632,732"/>
<polyline points="630,798 568,798 568,875 630,875"/>
<polyline points="785,537 725,537 725,626 785,626"/>
<polyline points="785,725 740,725 740,785 785,785"/>
<polyline points="787,693 776,693 776,756 787,756"/>
<polyline points="1009,705 911,705 911,809 1009,809"/>
<polyline points="1012,693 1010,693 1010,718 1012,718"/>
</g>

<!-- small heatmap headers -->
<g font-size="6" fill="#666">
<text x="665" y="397" text-anchor="middle">HH</text>
<text x="665" y="583" text-anchor="middle">HuT78</text>
<text x="665" y="750" text-anchor="middle">MJ</text>
<text x="820" y="506" text-anchor="middle">MYLA</text>
<text x="820" y="684" text-anchor="middle">SeAx</text>
<text x="638" y="407" textLength="54" lengthAdjust="spacingAndGlyphs">1 2 4 8 12 24</text>
<text x="638" y="590" textLength="54" lengthAdjust="spacingAndGlyphs">1 2 4 8 12 24</text>
<text x="638" y="757" textLength="54" lengthAdjust="spacingAndGlyphs">1 2 4 8 12 24</text>
<text x="794" y="513" textLength="52" lengthAdjust="spacingAndGlyphs">1 2 4 8 12 24</text>
<text x="794" y="690" textLength="52" lengthAdjust="spacingAndGlyphs">1 2 4 8 12 24</text>
<text x="699" y="407">[hours]</text><text x="699" y="590">[hours]</text><text x="699" y="757">[hours]</text><text x="851" y="513">[hours]</text><text x="851" y="690">[hours]</text>
<text x="1050" y="507" text-anchor="middle">HH</text><text x="1094" y="507" text-anchor="middle">HUT78</text><text x="1137" y="507" text-anchor="middle">MJ</text><text x="1181" y="507" text-anchor="middle">MYLA</text><text x="1224" y="507" text-anchor="middle">SeAx</text>
<text x="1248" y="516">[hours]</text>
</g>
<g stroke="#999" stroke-width="0.6">
<line x1="640" y1="401" x2="690" y2="401"/><line x1="640" y1="585" x2="690" y2="585"/><line x1="640" y1="752" x2="690" y2="752"/><line x1="796" y1="508" x2="846" y2="508"/><line x1="796" y1="686" x2="846" y2="686"/>
</g>
<rect x="1029" y="509" width="217" height="9" fill="#fff" stroke="#aaa" stroke-width="0.7"/>
<text x="1031" y="516" font-size="5.5" fill="#888" textLength="213" lengthAdjust="spacingAndGlyphs">1 2 4 8 12 24 1 2 4 8 12 24 1 2 4 8 12 24 1 2 4 8 12 24 1 2 4 8 12 24</text>

<!-- gene counts -->
<g font-weight="bold" font-size="10" fill="#111">
<text x="696" y="451">↓1749</text><text x="695" y="462" font-weight="normal">genes</text>
<text x="696" y="528">↑1763</text><text x="695" y="539" font-weight="normal">genes</text>
<text x="696" y="634">↓1382</text><text x="695" y="645" font-weight="normal">genes</text>
<text x="696" y="690">↑997</text><text x="695" y="701" font-weight="normal">genes</text>
<text x="696" y="803">↓1648</text><text x="695" y="814" font-weight="normal">genes</text>
<text x="696" y="884">↑1433</text><text x="695" y="895" font-weight="normal">genes</text>
<text x="852" y="556">↓1000</text><text x="851" y="567" font-weight="normal">genes</text>
<text x="852" y="627">↑1022</text><text x="851" y="638" font-weight="normal">genes</text>
<text x="852" y="735">↓1677</text><text x="851" y="746" font-weight="normal">genes</text>
<text x="852" y="795">↑1598</text><text x="851" y="806" font-weight="normal">genes</text>
</g>
<g font-weight="bold" font-size="13" fill="#111">
<text x="928" y="592" textLength="68" lengthAdjust="spacingAndGlyphs">↓161 genes</text>
<text x="928" y="610" textLength="68" lengthAdjust="spacingAndGlyphs">↑102 genes</text>
</g>
</svg>
</body></html>
